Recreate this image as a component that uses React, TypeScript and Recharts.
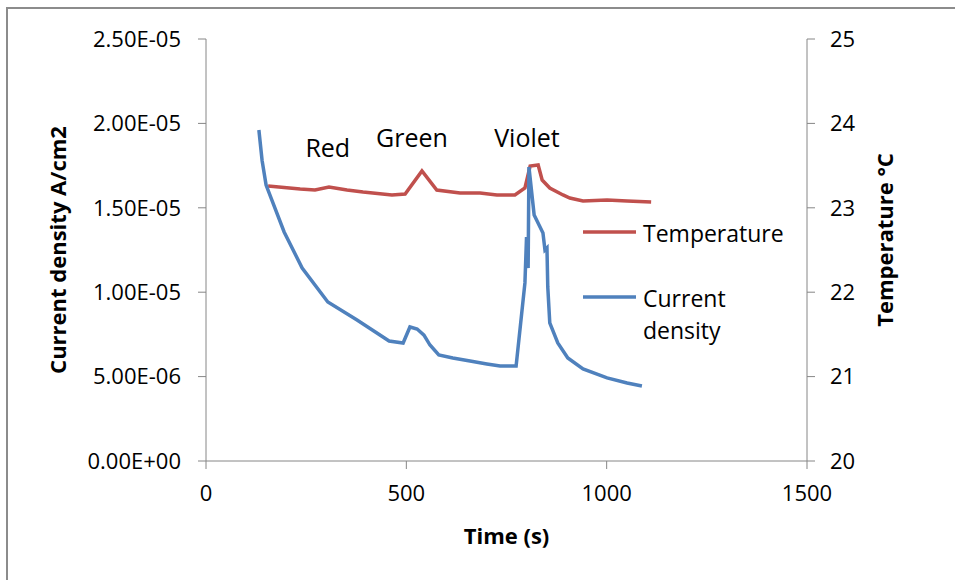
import React from 'react';
import { LineChart, Line, XAxis, YAxis, Legend, Label, ReferenceDot } from 'recharts';

// Current density series (time in s, A/cm2)
const currentTime = [132, 140, 150, 195, 240, 304, 377, 457, 492, 509, 527, 544, 559, 581, 616, 659, 701, 734, 774, 796, 800, 804, 806, 819, 841, 846, 851, 853, 858, 878, 903, 941, 1001, 1051, 1088];
const currentDensity = [1.961e-5, 1.78e-5, 1.635e-5, 1.357e-5, 1.143e-5, 0.942e-5, 0.835e-5, 0.711e-5, 0.699e-5, 0.794e-5, 0.782e-5, 0.746e-5, 0.687e-5, 0.628e-5, 0.61e-5, 0.592e-5, 0.575e-5, 0.563e-5, 0.563e-5, 1.055e-5, 1.327e-5, 1.143e-5, 1.742e-5, 1.457e-5, 1.351e-5, 1.25e-5, 1.262e-5, 1.031e-5, 0.818e-5, 0.699e-5, 0.61e-5, 0.545e-5, 0.492e-5, 0.462e-5, 0.444e-5];

// Temperature series (time in s, °C)
const tempTime = [155, 235, 272, 307, 352, 392, 464, 497, 539, 576, 634, 684, 726, 771, 796, 809, 829, 839, 858, 891, 908, 941, 1001, 1051, 1111];
const temperature = [23.258, 23.223, 23.211, 23.246, 23.211, 23.187, 23.152, 23.164, 23.436, 23.211, 23.175, 23.175, 23.152, 23.152, 23.235, 23.495, 23.507, 23.329, 23.235, 23.152, 23.116, 23.081, 23.092, 23.081, 23.069];

// Light colour annotations
const noteLabels = ['Red', 'Green', 'Violet'];
const noteTime = [304, 514, 801];
const noteLevel = [1.854e-5, 1.914e-5, 1.914e-5];

const timeTicks = [0, 500, 1000, 1500];
const currentTicks = [0, 5e-6, 1e-5, 1.5e-5, 2e-5, 2.5e-5];
const tempTicks = [20, 21, 22, 23, 24, 25];
const legendOrder = ['Temperature', 'Current density'];

const currentData = currentTime.map((t, i) => ({ t, current: currentDensity[i] }));
const tempData = tempTime.map((t, i) => ({ t, temp: temperature[i] }));

const FONT = '"Open Sans", "Liberation Sans", sans-serif';
const AXIS = '#868686';
const RED = '#C0504D';
const BLUE = '#4F81BD';

const sci = (v: number) => {
  if (v === 0) return '0.00E+00';
  const [m, e] = v.toExponential(2).split('e');
  const n = parseInt(e, 10);
  return `${m}E${n < 0 ? '-' : '+'}${String(Math.abs(n)).padStart(2, '0')}`;
};

const tickStyle = { fill: '#000', fontSize: 22, fontFamily: FONT };

const LegendBox = ({ payload }: any) => {
  const items = [...(payload || [])].sort(
    (a: any, b: any) => legendOrder.indexOf(a.value) - legendOrder.indexOf(b.value)
  );
  return (
    <div style={{ fontFamily: FONT, fontSize: 23, lineHeight: '32px', color: '#000' }}>
      {items.map((p: any, i: number) => (
        <div key={i} style={{ display: 'flex', alignItems: 'flex-start', marginBottom: 33 }}>
          <svg width={60} height={32} style={{ flex: 'none' }}>
            <line x1={0} x2={53} y1={15} y2={15} stroke={p.color} strokeWidth={3.5} />
          </svg>
          <div>
            {String(p.value).split(' ').map((w, j) => (
              <div key={j}>{w}</div>
            ))}
          </div>
        </div>
      ))}
    </div>
  );
};

const titleProps = {
  textAnchor: 'middle' as const,
  dominantBaseline: 'central' as const,
  fontFamily: FONT,
  fontWeight: 'bold',
  fontSize: 22,
  fill: '#000',
};

export default function App() {
  return (
    <div style={{ position: 'absolute', left: 0, top: 0, width: 955, height: 580, background: '#fff', overflow: 'hidden' }}>
      <div
        style={{
          position: 'absolute',
          left: 6,
          top: 7,
          width: 949,
          height: 573,
          borderLeft: '2px solid #8c8c8c',
          borderTop: '2px solid #8c8c8c',
          boxSizing: 'border-box',
        }}
      />
      <div style={{ position: 'absolute', left: 0, top: 0 }}>
        <LineChart width={955} height={580} margin={{ top: 39, right: 48, bottom: 59, left: 56 }}>
          <XAxis
            dataKey="t"
            type="number"
            domain={[0, 1500]}
            ticks={timeTicks}
            height={60}
            stroke={AXIS}
            tickSize={8}
            tickMargin={16}
            tick={tickStyle}
            tickLine={{ stroke: AXIS }}
            allowDuplicatedCategory={false}
          >
            <Label
              content={({ viewBox }: any) => (
                <text x={viewBox.x + viewBox.width / 2} y={viewBox.y + 74} {...titleProps}>
                  Time (s)
                </text>
              )}
            />
          </XAxis>
          <YAxis
            yAxisId="current"
            orientation="left"
            domain={[0, 2.5e-5]}
            ticks={currentTicks}
            tickFormatter={sci}
            width={150}
            stroke={AXIS}
            tickSize={8}
            tickMargin={17}
            tick={tickStyle}
            tickLine={{ stroke: AXIS }}
          >
            <Label
              content={({ viewBox }: any) => {
                const cx = viewBox.x + 1;
                const cy = viewBox.y + viewBox.height / 2;
                return (
                  <text x={cx} y={cy} transform={`rotate(-90 ${cx} ${cy})`} {...titleProps}>
                    Current density A/cm2
                  </text>
                );
              }}
            />
          </YAxis>
          <YAxis
            yAxisId="temp"
            orientation="right"
            domain={[20, 25]}
            ticks={tempTicks}
            width={100}
            stroke={AXIS}
            tickSize={8}
            tickMargin={15}
            tick={tickStyle}
            tickLine={{ stroke: AXIS }}
          >
            <Label
              content={({ viewBox }: any) => {
                const cx = viewBox.x + 77;
                const cy = viewBox.y + viewBox.height / 2 - 10;
                return (
                  <text x={cx} y={cy} transform={`rotate(-90 ${cx} ${cy})`} {...titleProps}>
                    Temperature °C
                  </text>
                );
              }}
            />
          </YAxis>
          <Legend
            layout="vertical"
            align="center"
            verticalAlign="middle"
            content={<LegendBox />}
            wrapperStyle={{ position: 'absolute', left: 583, top: 217, width: 240 }}
          />
          <Line
            yAxisId="temp"
            data={tempData}
            dataKey="temp"
            name="Temperature"
            type="linear"
            stroke={RED}
            strokeWidth={3.5}
            dot={false}
            isAnimationActive={false}
          />
          <Line
            yAxisId="current"
            data={currentData}
            dataKey="current"
            name="Current density"
            type="linear"
            stroke={BLUE}
            strokeWidth={3.5}
            dot={false}
            isAnimationActive={false}
          />
          {noteLabels.map((txt, i) => (
            <ReferenceDot
              key={txt}
              yAxisId="current"
              x={noteTime[i]}
              y={noteLevel[i]}
              r={0}
              fill="none"
              stroke="none"
              label={{
                value: txt,
                position: 'center',
                fontFamily: FONT,
                fontSize: 25,
                fill: '#000',
              }}
            />
          ))}
        </LineChart>
      </div>
    </div>
  );
}
